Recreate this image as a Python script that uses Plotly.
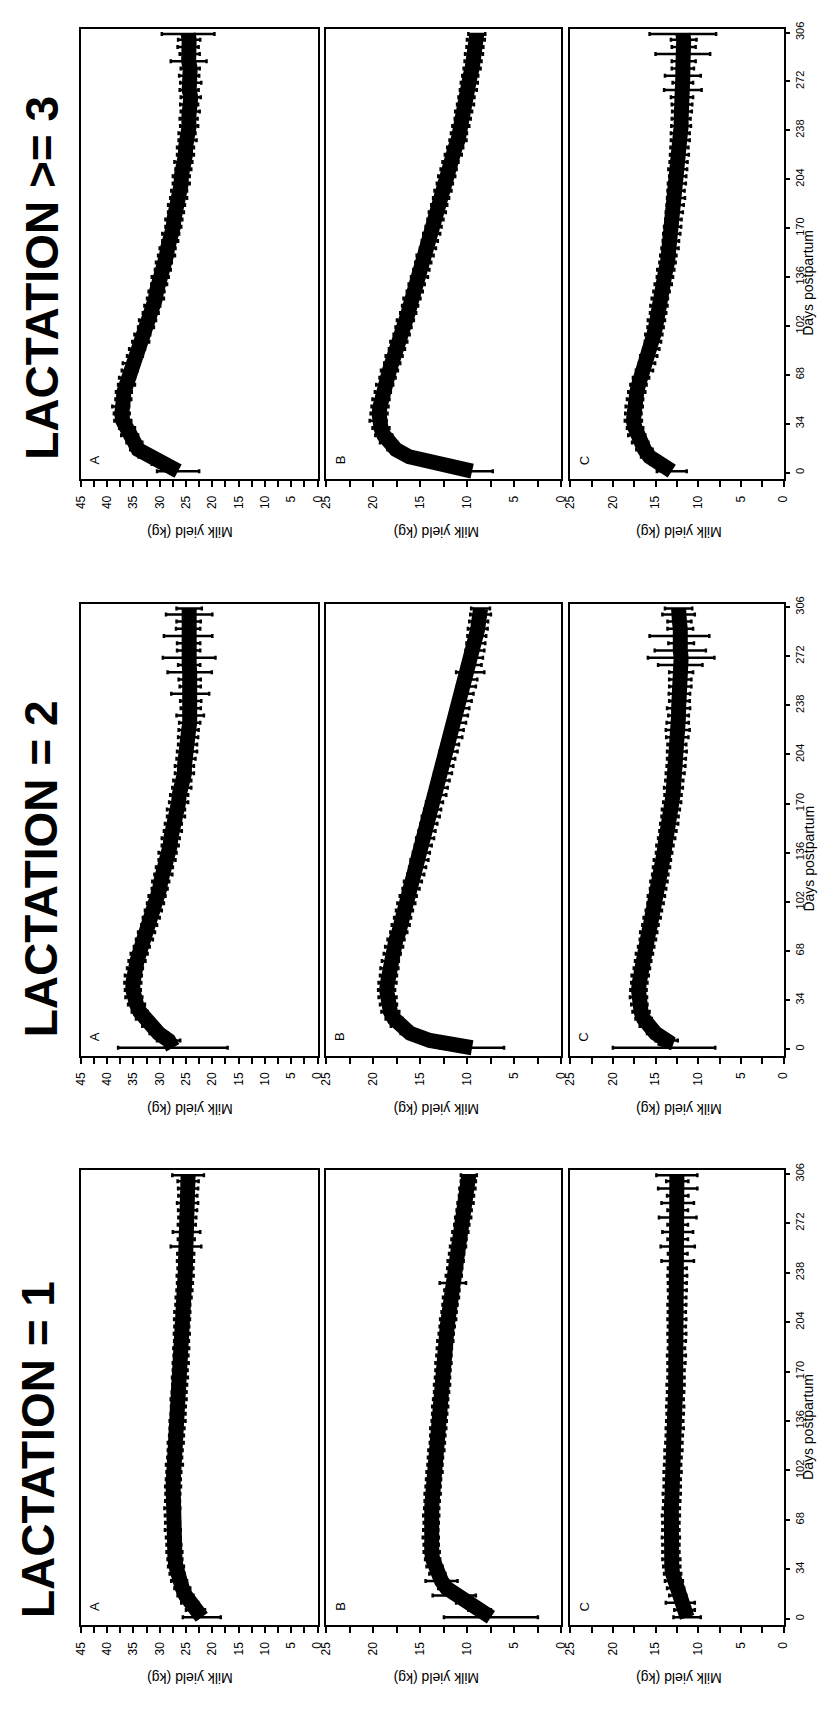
import plotly.graph_objects as go

W, H = 821, 1709
FONT = "Liberation Sans, Arial, sans-serif"

# Days postpartum at which the mean daily yield is plotted
DAYS = list(range(1, 302, 5)) + [305]

# ---- Mean milk yield (kg) and standard errors, lactation 1 ----
L1_A = [22.0, 23.2, 24.3, 25.1, 25.7, 26.3, 26.7, 26.9, 27.1, 27.2,
        27.3, 27.4, 27.5, 27.55, 27.6, 27.6, 27.55, 27.5, 27.45, 27.4,
        27.3, 27.2, 27.15, 27.05, 26.95, 26.8, 26.7, 26.6, 26.5, 26.45,
        26.4, 26.3, 26.2, 26.15, 26.1, 26.0, 25.95, 25.9, 25.85, 25.8,
        25.8, 25.75, 25.7, 25.6, 25.45, 25.3, 25.2, 25.15, 25.1, 25.1,
        25.05, 25.0, 24.95, 24.9, 24.85, 24.75, 24.7, 24.7, 24.65, 24.6,
        24.6, 24.6]
SE1_A = [3.6, 1.8, 1.6, 1.5, 1.5, 1.5, 1.4, 1.5, 1.4, 1.5,
         1.4, 1.4, 1.5, 1.4, 1.4, 1.5, 1.4, 1.4, 1.5, 1.4,
         1.4, 1.6, 1.4, 1.4, 1.5, 1.4, 1.4, 1.5, 1.4, 1.4,
         1.5, 1.4, 1.4, 1.5, 1.4, 1.5, 1.4, 1.5, 1.4, 1.5,
         1.4, 1.5, 1.5, 1.4, 1.5, 1.5, 1.5, 1.6, 1.5, 1.6,
         1.6, 2.9, 1.6, 2.6, 1.7, 1.7, 1.8, 2.0, 1.8, 1.9,
         2.0, 3.0]
L1_B = [7.5, 8.7, 10.2, 11.4, 12.2, 12.75, 13.2, 13.5, 13.7, 13.8,
        13.85, 13.9, 13.9, 13.85, 13.85, 13.8, 13.75, 13.7, 13.65, 13.6,
        13.5, 13.45, 13.4, 13.3, 13.2, 13.15, 13.1, 13.0, 12.95, 12.9,
        12.85, 12.75, 12.7, 12.65, 12.6, 12.55, 12.5, 12.45, 12.35, 12.25,
        12.15, 12.05, 11.95, 11.85, 11.75, 11.65, 11.55, 11.45, 11.35, 11.25,
        11.15, 11.0, 10.9, 10.75, 10.6, 10.45, 10.35, 10.2, 10.1, 10.0,
        9.9, 9.85]
SE1_B = [5.0, 1.2, 1.0, 2.3, 0.9, 1.7, 0.85, 0.85, 0.8, 0.85,
         0.8, 0.85, 0.8, 0.8, 0.85, 0.8, 0.8, 0.85, 0.8, 0.8,
         0.85, 0.8, 0.8, 0.85, 0.8, 0.8, 0.85, 0.8, 0.8, 0.85,
         0.8, 0.8, 0.85, 0.8, 0.8, 0.85, 0.8, 0.8, 0.85, 0.8,
         0.8, 0.85, 0.8, 0.8, 0.85, 0.8, 1.4, 0.85, 0.8, 0.85,
         0.8, 0.85, 0.8, 0.85, 0.8, 0.85, 0.8, 0.85, 0.8, 0.85,
         0.8, 0.85]
L1_C = [11.3, 11.6, 12.1, 12.4, 12.65, 12.85, 13.0, 13.1, 13.15, 13.2,
        13.2, 13.2, 13.2, 13.2, 13.2, 13.15, 13.1, 13.1, 13.05, 13.05,
        13.0, 13.0, 12.95, 12.9, 12.85, 12.8, 12.75, 12.75, 12.7, 12.7,
        12.7, 12.65, 12.65, 12.6, 12.6, 12.55, 12.55, 12.55, 12.5, 12.5,
        12.5, 12.5, 12.5, 12.5, 12.45, 12.45, 12.45, 12.45, 12.45, 12.4,
        12.4, 12.4, 12.4, 12.4, 12.4, 12.4, 12.4, 12.4, 12.4, 12.4,
        12.45, 12.5]
SE1_C = [1.6, 1.2, 1.7, 1.0, 1.0, 1.05, 1.0, 1.0, 1.05, 1.0,
         1.0, 1.05, 1.0, 1.0, 1.05, 1.0, 1.0, 1.05, 1.0, 1.0,
         1.05, 1.0, 1.0, 1.05, 1.0, 1.0, 1.05, 1.0, 1.0, 1.05,
         1.0, 1.0, 1.05, 1.0, 1.0, 1.05, 1.1, 1.0, 1.05, 1.1,
         1.05, 1.1, 1.05, 1.1, 1.05, 1.1, 1.1, 1.15, 1.1, 1.9,
         1.15, 2.0, 1.2, 1.8, 1.2, 2.2, 1.2, 1.9, 1.25, 2.3,
         1.3, 2.4]

# ---- Lactation 2 ----
L2_A = [27.5, 28.3, 30.2, 31.7, 32.9, 33.8, 34.4, 34.9, 35.1, 35.1,
        35.0, 34.7, 34.3, 33.9, 33.4, 32.9, 32.5, 32.0, 31.6, 31.2,
        30.8, 30.5, 30.0, 29.8, 29.3, 29.1, 28.6, 28.5, 28.0, 27.9,
        27.5, 27.4, 26.9, 26.9, 26.4, 26.3, 25.8, 25.7, 25.3, 25.3,
        25.0, 24.8, 24.7, 24.6, 24.5, 24.3, 24.2, 24.1, 24.1, 24.2,
        24.2, 24.3, 24.3, 24.4, 24.4, 24.5, 24.5, 24.6, 24.6, 24.5,
        24.4, 24.4]
SE2_A = [10.4, 2.2, 1.7, 1.6, 1.6, 1.5, 1.6, 1.6, 1.5, 1.6,
         1.6, 1.5, 1.6, 1.6, 1.5, 1.6, 1.6, 1.5, 1.6, 1.6,
         1.6, 1.6, 1.5, 1.6, 1.7, 1.6, 1.6, 1.7, 1.6, 1.7,
         1.7, 1.6, 1.7, 1.7, 1.8, 1.7, 1.8, 1.7, 1.8, 1.8,
         1.8, 1.9, 1.8, 1.9, 1.9, 2.0, 2.6, 1.9, 2.0, 3.6,
         2.0, 2.1, 4.2, 2.1, 5.0, 2.2, 2.2, 4.6, 2.3, 2.3,
         4.4, 2.4]
L2_B = [9.5, 14.0, 16.1, 17.2, 17.8, 18.2, 18.4, 18.5, 18.6, 18.5,
        18.4, 18.3, 18.2, 18.0, 17.8, 17.6, 17.3, 17.1, 16.9, 16.7,
        16.5, 16.3, 16.0, 15.8, 15.5, 15.3, 15.1, 14.9, 14.7, 14.5,
        14.3, 14.1, 13.9, 13.7, 13.5, 13.2, 13.0, 12.8, 12.6, 12.4,
        12.2, 12.0, 11.8, 11.5, 11.3, 11.1, 10.9, 10.7, 10.5, 10.3,
        10.1, 9.9, 9.7, 9.5, 9.3, 9.2, 9.1, 9.0, 8.9, 8.8,
        8.6, 8.6]
SE2_B = [3.4, 1.3, 1.0, 0.95, 0.9, 0.95, 0.9, 0.95, 0.9, 0.95,
         0.9, 0.95, 0.9, 0.9, 0.95, 0.9, 0.9, 0.95, 0.9, 0.9,
         0.95, 0.9, 0.9, 0.95, 0.9, 0.9, 0.95, 0.9, 0.9, 0.95,
         0.9, 0.9, 0.95, 0.9, 0.9, 0.95, 0.9, 0.9, 0.95, 0.9,
         0.9, 0.95, 0.9, 0.95, 0.9, 0.95, 0.95, 0.9, 0.95, 0.95,
         1.0, 0.95, 1.5, 1.0, 0.95, 1.0, 1.0, 1.0, 1.05, 1.0,
         1.1, 1.0]
L2_C = [14.0, 13.7, 15.0, 15.9, 16.4, 16.7, 16.9, 17.0, 17.0, 16.9,
        16.8, 16.6, 16.45, 16.3, 16.1, 15.9, 15.8, 15.6, 15.4, 15.2,
        15.0, 14.9, 14.7, 14.6, 14.45, 14.3, 14.2, 14.0, 13.9, 13.7,
        13.55, 13.4, 13.3, 13.2, 13.05, 12.95, 12.9, 12.8, 12.7, 12.6,
        12.55, 12.5, 12.5, 12.45, 12.4, 12.4, 12.3, 12.3, 12.2, 12.2,
        12.1, 12.1, 12.0, 12.1, 12.0, 12.1, 12.0, 12.2, 12.1, 12.2,
        12.3, 12.3]
SE2_C = [6.0, 1.3, 1.0, 0.95, 0.95, 1.0, 0.95, 1.0, 0.95, 0.95,
         1.0, 0.95, 0.95, 1.0, 0.95, 0.95, 1.0, 0.95, 1.0, 0.95,
         0.95, 1.0, 0.95, 1.0, 0.95, 1.0, 1.0, 0.95, 1.0, 1.0,
         1.0, 1.05, 1.0, 1.05, 1.05, 1.0, 1.1, 1.05, 1.1, 1.1,
         1.1, 1.15, 1.1, 1.3, 1.4, 1.3, 1.2, 1.35, 1.2, 1.25,
         1.3, 1.3, 1.4, 2.6, 3.9, 3.0, 1.5, 3.5, 1.5, 1.4,
         1.9, 1.6]

# ---- Lactation 3 and later ----
L3_A = [26.5, 29.6, 32.4, 34.1, 34.8, 35.7, 36.2, 37.0, 37.2, 37.4,
        36.9, 36.8, 36.3, 36.2, 35.7, 35.4, 34.7, 34.3, 33.6, 33.3,
        32.6, 32.3, 31.7, 31.4, 30.8, 30.6, 30.1, 29.9, 29.4, 29.2,
        28.7, 28.5, 28.0, 27.9, 27.4, 27.3, 26.9, 26.8, 26.4, 26.3,
        25.9, 25.9, 25.5, 25.5, 25.1, 25.1, 24.7, 24.8, 24.4, 24.5,
        24.2, 24.4, 24.1, 24.4, 24.1, 24.4, 24.2, 24.5, 24.3, 24.6,
        24.4, 24.6]
SE3_A = [4.0, 1.9, 1.6, 1.5, 1.5, 1.6, 1.5, 1.6, 1.5, 1.6,
         1.5, 1.5, 1.6, 1.5, 1.5, 1.6, 1.5, 1.5, 1.6, 1.5,
         1.5, 1.6, 1.5, 1.5, 1.6, 1.5, 1.5, 1.6, 1.5, 1.5,
         1.6, 1.5, 1.5, 1.6, 1.5, 1.6, 1.5, 1.6, 1.6, 1.5,
         1.6, 1.6, 1.5, 1.7, 1.6, 1.6, 1.7, 1.6, 1.7, 1.7,
         1.8, 1.7, 1.9, 1.8, 2.0, 1.9, 1.8, 3.4, 1.9, 2.0,
         2.1, 5.0]
L3_B = [9.5, 13.8, 16.2, 17.6, 18.4, 18.9, 19.2, 19.5, 19.4, 19.3,
        19.2, 19.0, 18.8, 18.5, 18.3, 18.0, 17.8, 17.5, 17.3, 17.0,
        16.8, 16.6, 16.3, 16.1, 15.9, 15.6, 15.4, 15.1, 14.9, 14.7,
        14.5, 14.2, 14.0, 13.8, 13.6, 13.4, 13.2, 13.0, 12.8, 12.6,
        12.4, 12.2, 12.0, 11.8, 11.5, 11.3, 11.0, 10.9, 10.7, 10.5,
        10.4, 10.2, 10.1, 9.9, 9.8, 9.7, 9.5, 9.4, 9.3, 9.2,
        9.1, 9.0]
SE3_B = [2.2, 1.2, 1.0, 0.9, 0.9, 0.9, 0.9, 0.9, 0.9, 0.9,
         0.9, 0.85, 0.9, 0.85, 0.9, 0.85, 0.9, 0.85, 0.9, 0.85,
         0.85, 0.9, 0.85, 0.85, 0.9, 0.85, 0.85, 0.9, 0.85, 0.85,
         0.9, 0.85, 0.85, 0.9, 0.85, 0.85, 0.9, 0.85, 0.85, 0.9,
         0.85, 0.9, 0.85, 0.85, 0.9, 0.85, 0.9, 0.85, 0.9, 0.85,
         0.9, 0.9, 0.85, 0.9, 0.9, 0.85, 0.9, 0.9, 0.95, 0.9,
         0.95, 0.9]
L3_C = [13.1, 14.5, 15.7, 16.3, 16.8, 17.2, 17.4, 17.6, 17.6, 17.5,
        17.4, 17.2, 17.0, 16.7, 16.3, 16.0, 15.8, 15.5, 15.3, 15.2,
        15.0, 14.9, 14.7, 14.6, 14.5, 14.3, 14.1, 13.9, 13.8, 13.6,
        13.5, 13.3, 13.2, 13.1, 13.0, 12.9, 12.8, 12.7, 12.6, 12.6,
        12.5, 12.4, 12.4, 12.3, 12.2, 12.2, 12.1, 12.1, 12.0, 12.0,
        11.9, 11.9, 11.9, 11.8, 11.8, 11.8, 11.8, 11.7, 11.8, 11.7,
        11.7, 11.8]
SE3_C = [1.75, 1.1, 1.0, 0.95, 0.95, 1.0, 0.95, 1.0, 0.95, 1.0,
         0.95, 1.0, 0.95, 0.95, 1.0, 0.95, 1.0, 0.95, 0.95, 1.0,
         0.95, 1.0, 0.95, 1.0, 0.95, 0.95, 1.0, 0.95, 1.0, 0.95,
         0.95, 1.0, 0.95, 1.0, 1.0, 0.95, 1.0, 1.0, 1.05, 1.0,
         1.05, 1.0, 1.1, 1.05, 1.1, 1.05, 1.1, 1.1, 1.15, 1.1,
         1.15, 1.2, 1.3, 2.2, 1.2, 2.1, 1.3, 1.4, 3.2, 1.4,
         1.5, 3.9]

GROUPS = ["LACTATION >= 3", "LACTATION = 2", "LACTATION = 1"]
PANELS = ["A", "B", "C"]
SERIES = {
    ("LACTATION = 1", "A"): (L1_A, SE1_A),
    ("LACTATION = 1", "B"): (L1_B, SE1_B),
    ("LACTATION = 1", "C"): (L1_C, SE1_C),
    ("LACTATION = 2", "A"): (L2_A, SE2_A),
    ("LACTATION = 2", "B"): (L2_B, SE2_B),
    ("LACTATION = 2", "C"): (L2_C, SE2_C),
    ("LACTATION >= 3", "A"): (L3_A, SE3_A),
    ("LACTATION >= 3", "B"): (L3_B, SE3_B),
    ("LACTATION >= 3", "C"): (L3_C, SE3_C),
}
MILK_MAX = {"A": 45, "B": 25, "C": 25}
DAY_TICKS = [0, 34, 68, 102, 136, 170, 204, 238, 272, 306]
DAY_RANGE = [-4.5, 308.5]

# Page geometry (pixels): panel columns and the three stacked blocks
COL_X = {"A": (75, 316), "B": (325, 564), "C": (573, 790)}
ROW_Y = {"LACTATION >= 3": (22, 474), "LACTATION = 2": (599, 1053),
         "LACTATION = 1": (1168, 1625)}
TITLE_POS = {"LACTATION >= 3": (35.5, 272), "LACTATION = 2": (35.5, 865),
             "LACTATION = 1": (31.5, 1448)}
YLAB_X = {"A": 186, "B": 437, "C": 683}


def px(x):
    return x / W


def py(y):
    return 1 - y / H


fig = go.Figure()
layout = {}
annotations = []
k = 0
for g in GROUPS:
    y0, y1 = ROW_Y[g]
    for p in PANELS:
        k += 1
        x0, x1 = COL_X[p]
        xn = "x" if k == 1 else f"x{k}"
        yn = "y" if k == 1 else f"y{k}"
        vals, se = SERIES[(g, p)]
        fig.add_trace(go.Scatter(
            x=vals, y=DAYS, xaxis=xn, yaxis=yn, mode="lines",
            line=dict(color="black", width=15),
            error_x=dict(type="data", array=se, visible=True, color="black",
                         thickness=2.5, width=2),
            showlegend=False, hoverinfo="skip"))

        layout["xaxis" if k == 1 else f"xaxis{k}"] = dict(
            domain=[px(x0), px(x1)], anchor=yn, range=[MILK_MAX[p], 0],
            tick0=0, dtick=5, ticks="outside", ticklen=6, tickwidth=1.6,
            tickcolor="black", tickangle=-90, ticklabelstandoff=4,
            tickfont=dict(size=12, family=FONT, color="black"),
            minor=dict(dtick=2.5, tick0=0, ticks="outside", ticklen=6,
                       tickwidth=1.6, tickcolor="black", showgrid=False),
            showline=True, linecolor="black", linewidth=1.8, mirror=True,
            showgrid=False, zeroline=False, fixedrange=True)

        yax = dict(domain=[py(y1), py(y0)], anchor=xn, range=DAY_RANGE,
                   showline=True, linecolor="black", linewidth=1.8,
                   mirror=True, showgrid=False, zeroline=False,
                   fixedrange=True)
        if p == "C":
            yax.update(side="right", tickmode="array", tickvals=DAY_TICKS,
                       ticktext=[str(d) for d in DAY_TICKS],
                       ticks="outside", ticklen=5, tickwidth=1.6,
                       tickcolor="black", tickangle=-90,
                       tickfont=dict(size=11, family=FONT, color="black"))
            annotations.append(dict(
                text="Days postpartum", x=px(815), xref="paper", y=132,
                yref=yn, textangle=-90, showarrow=False,
                font=dict(size=14, family=FONT, color="black"),
                xanchor="center", yanchor="middle"))
        else:
            yax.update(showticklabels=False, ticks="")
        layout["yaxis" if k == 1 else f"yaxis{k}"] = yax

        # panel letter
        annotations.append(dict(
            text=p, x=px(x0 + 14), y=py(y1 - 19), xref="paper", yref="paper",
            textangle=-90, showarrow=False,
            font=dict(size=13, family=FONT, color="black"),
            xanchor="center", yanchor="middle"))
        # value axis title
        annotations.append(dict(
            text="Milk yield (kg)", x=px(YLAB_X[p]), y=py(y1 + 53),
            xref="paper", yref="paper", textangle=180, showarrow=False,
            font=dict(size=14, family=FONT, color="black"),
            xanchor="center", yanchor="middle"))

    tx, ty = TITLE_POS[g]
    annotations.append(dict(
        text=g, x=px(tx), y=py(ty), xref="paper", yref="paper",
        textangle=-90, showarrow=False,
        font=dict(size=46, family=FONT, color="black", weight="bold"),
        xanchor="center", yanchor="middle"))

fig.update_layout(
    width=W, height=H, margin=dict(l=0, r=0, t=0, b=0),
    paper_bgcolor="white", plot_bgcolor="white",
    annotations=annotations, **layout)

fig.write_html("out.html")
